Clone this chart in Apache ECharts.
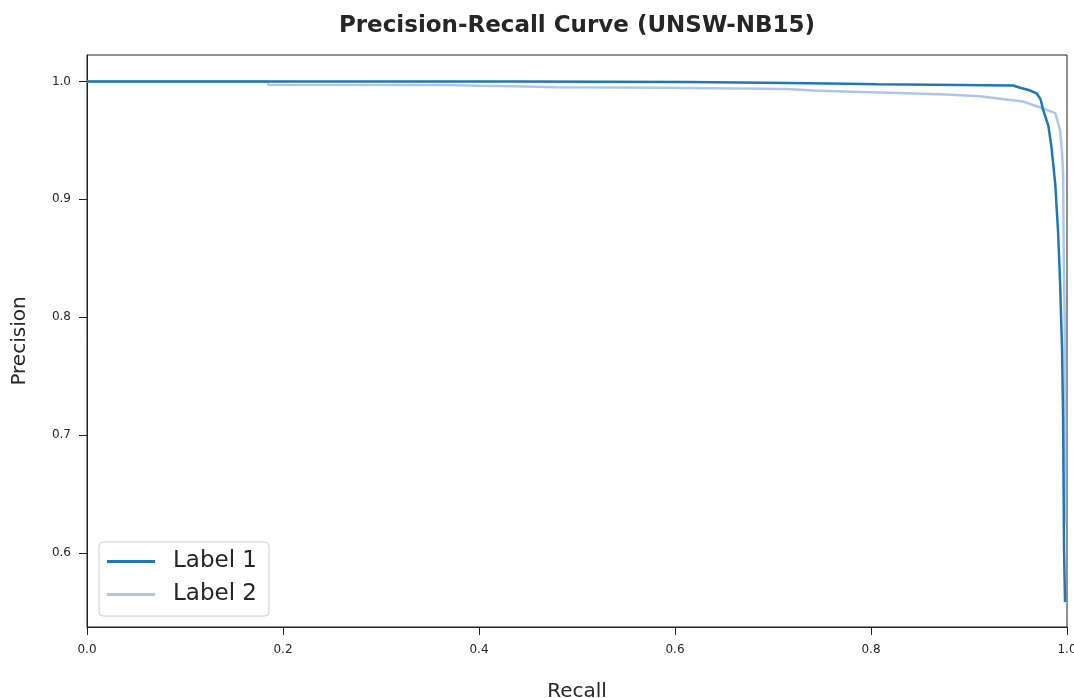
<!DOCTYPE html>
<html>
<head>
<meta charset="utf-8">
<script src="https://cdn.jsdelivr.net/npm/echarts@6/dist/echarts.min.js"></script>
<style>
html,body{margin:0;padding:0;background:#fff;overflow:hidden;}
#chart{width:1074px;height:698px;}
</style>
</head>
<body>
<div id="chart"></div>
<script>
const title = 'Precision-Recall Curve (UNSW-NB15)';
const xAxisName = 'Recall';
const yAxisName = 'Precision';
const seriesNames = ['Label 1', 'Label 2'];
const xTicks = [0, 0.2, 0.4, 0.6, 0.8, 1.0];
const yTicks = [0.6, 0.7, 0.8, 0.9, 1.0];

const recall1 = [0, 0.435, 0.435, 0.613, 0.613, 0.715, 0.715, 0.776, 0.776, 0.806, 0.806, 0.891, 0.891, 0.945, 0.952, 0.961, 0.969, 0.973, 0.976, 0.981, 0.984, 0.988, 0.991, 0.993, 0.995, 0.996, 0.9965, 0.997, 0.998];
const precision1 = [1.0, 1.0, 0.9996, 0.9996, 0.9987, 0.9987, 0.9981, 0.9981, 0.9976, 0.9976, 0.9970, 0.9970, 0.9966, 0.9966, 0.9947, 0.9928, 0.9900, 0.9849, 0.9750, 0.9623, 0.9453, 0.9131, 0.8708, 0.8284, 0.7716, 0.7148, 0.6589, 0.6021, 0.5581];

const recall2 = [0, 0.185, 0.185, 0.367, 0.40, 0.435, 0.48, 0.551, 0.615, 0.714, 0.741, 0.789, 0.837, 0.877, 0.911, 0.932, 0.955, 0.972, 0.988, 0.993, 0.995, 0.996, 0.9966, 0.9976, 0.998, 0.998, 0.998];
const precision2 = [1.0, 1.0, 0.9972, 0.9970, 0.9963, 0.9960, 0.9952, 0.9949, 0.9944, 0.9936, 0.9923, 0.9911, 0.9900, 0.9889, 0.9875, 0.9853, 0.9830, 0.9782, 0.9731, 0.9585, 0.9388, 0.9218, 0.8564, 0.7996, 0.7436, 0.659, 0.625];

const colors = ['#1f77b4', '#aec7e8'];

function pairs(xs, ys){ return xs.map((x,i)=>[x, ys[i]]); }

const chart = echarts.init(document.getElementById('chart'), null, {renderer:'canvas'});
const font = 'DejaVu Sans';
chart.setOption({
  animation: false,
  backgroundColor: '#ffffff',
  title: {
    text: title, left: 572, top: 10, textAlign: 'center',
    textStyle: {fontFamily: font, fontWeight: 'bold', fontSize: 23, color: '#262626'}
  },
  grid: {left: 87, right: 7, top: 55, bottom: 71, show: true, borderColor: '#222', borderWidth: 1, containLabel: false, outerBoundsMode: 'none'},
  legend: {
    orient: 'vertical', left: 99, top: 542,
    padding: [8, 12, 10, 8],
    itemGap: 10,
    itemWidth: 48, itemHeight: 14,
    borderColor: '#d0d0d0', borderWidth: 1, borderRadius: 4,
    backgroundColor: 'rgba(255,255,255,0.8)',
    textStyle: {fontFamily: font, fontSize: 23, color: '#262626', padding: [0,0,0,13]},
    data: seriesNames.map(n => ({name: n, icon: 'path://M0,0 L48,0 L48,3 L0,3 Z'}))
  },
  xAxis: {
    type: 'value', min: 0, max: 1.0,
    name: xAxisName, nameLocation: 'middle', nameGap: 55,
    nameTextStyle: {fontFamily: font, fontSize: 20, color: '#262626'},
    axisLine: {show: true, lineStyle: {color: '#222', width: 1}},
    axisTick: {show: true, length: 8, lineStyle: {color: '#222'}, customValues: xTicks},
    axisLabel: {fontFamily: font, fontSize: 12, color: '#262626', margin: 17, customValues: xTicks, formatter: v => v.toFixed(1)},
    splitLine: {show: false}
  },
  yAxis: {
    type: 'value', min: 0.537, max: 1.0225,
    name: yAxisName, nameLocation: 'middle', nameGap: 57, nameRotate: 90,
    nameTextStyle: {fontFamily: font, fontSize: 20, color: '#262626'},
    axisLine: {show: true, lineStyle: {color: '#222', width: 1}},
    axisTick: {show: true, length: 8, lineStyle: {color: '#222'}, customValues: yTicks},
    axisLabel: {fontFamily: font, fontSize: 12, color: '#262626', margin: 16, customValues: yTicks, formatter: v => v.toFixed(1)},
    splitLine: {show: false}
  },
  series: [
    {name: seriesNames[1], type: 'line', data: pairs(recall2, precision2), showSymbol: false, symbol: 'none',
     lineStyle: {color: colors[1], width: 2.5}, itemStyle: {color: colors[1]}, z: 2},
    {name: seriesNames[0], type: 'line', data: pairs(recall1, precision1), showSymbol: false, symbol: 'none',
     lineStyle: {color: colors[0], width: 2.5}, itemStyle: {color: colors[0]}, z: 3}
  ]
});
</script>
</body>
</html>
